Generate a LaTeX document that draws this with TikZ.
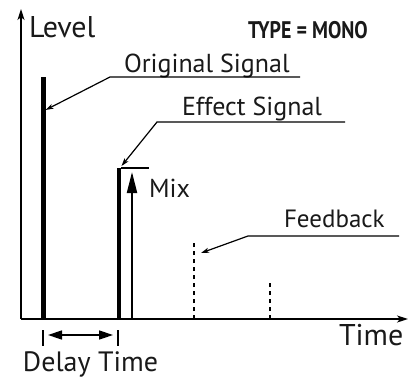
\documentclass[tikz,border=0pt]{standalone}
\usepackage{fontspec}
\setmainfont{PT Sans}
\usetikzlibrary{arrows.meta}
\begin{document}
\begin{tikzpicture}[x=1pt,y=-1pt,
  lbl/.style={anchor=base west,inner sep=0pt,outer sep=0pt,text=black!90},
  big/.style={lbl,font=\fontsize{30}{30}\selectfont},
  mid/.style={lbl,font=\fontsize{26}{26}\selectfont},
  axis/.style={line width=1.5pt,-{Stealth[length=11pt,width=7pt,inset=3pt]}},
  leader/.style={line width=1.2pt,-{Stealth[length=8pt,width=5pt,inset=2pt]}},
  plain/.style={line width=1.2pt},
  bar/.style={line width=5pt,line cap=butt},
  fb/.style={line width=2pt,dash pattern=on 4.5pt off 3.5pt}]
\useasboundingbox (0,0) rectangle (412,378);
% axes
\coordinate (org) at (21,319);
\coordinate (ytip) at (21,9);
\coordinate (xtip) at (408,319);
\draw[axis] (org) -- (ytip);
\draw[axis] (org) -- (xtip);
% signals
\coordinate (ob) at (43,319);
\coordinate (ot) at (43,77);
\draw[bar] (ob) -- (ot);
\coordinate (eb) at (119,319);
\coordinate (et) at (119,168);
\draw[bar,line width=4.5pt] (eb) -- (et);
\coordinate (el1) at (121,168);
\coordinate (el2) at (149,168);
\draw[plain] (el1) -- (el2);
\coordinate (mb) at (132,319);
\coordinate (mt) at (132,172);
\draw[line width=2pt,-{Triangle[length=21pt,width=10pt]}] (mb) -- (mt);
\coordinate (f1b) at (194,319);
\coordinate (f1t) at (194,243);
\draw[fb] (f1b) -- (f1t);
\coordinate (f2b) at (270,319);
\coordinate (f2t) at (270,281);
\draw[fb] (f2b) -- (f2t);
% labels
\node[big] (level) at (29,37) {Level};
\node[lbl,font=\fontsize{24}{24}\selectfont\bfseries] (type) at (248,38) {\scalebox{0.83}[1]{TYPE = MONO}};
\node[mid] (orig) at (124,72) {Original Signal};
\node[mid] (eff) at (182,115) {Effect Signal};
\node[mid] (mix) at (149,197) {Mix};
\node[mid,font=\fontsize{25}{25}\selectfont] (feed) at (284,227) {Feedback};
\node[big] (time) at (339,345) {Time};
\node[big,font=\fontsize{28}{28}\selectfont] (delay) at (23,371) {Delay Time};
% leaders
\coordinate (o1) at (300,77); \coordinate (o2) at (110,77); \coordinate (otip) at (45.5,110);
\draw[leader] (o1) -- (o2) -- (otip);
\coordinate (e1) at (345,122); \coordinate (e2) at (157,122); \coordinate (etip) at (121.5,166);
\draw[leader] (e1) -- (e2) -- (etip);
\coordinate (g1) at (399,236); \coordinate (g2) at (248,236); \coordinate (gtip) at (201,253);
\draw[leader] (g1) -- (g2) -- (gtip);
% delay time
\coordinate (d1a) at (43,330); \coordinate (d1b) at (43,346);
\coordinate (d2a) at (118,330); \coordinate (d2b) at (118,346);
\draw[plain,line width=1.4pt] (d1a) -- (d1b);
\draw[plain,line width=1.4pt] (d2a) -- (d2b);
\coordinate (da) at (48,335); \coordinate (db) at (113,335);
\draw[line width=1.5pt,{Triangle[length=14pt,width=9pt]}-{Triangle[length=14pt,width=9pt]}] (da) -- (db);
\end{tikzpicture}
\end{document}
